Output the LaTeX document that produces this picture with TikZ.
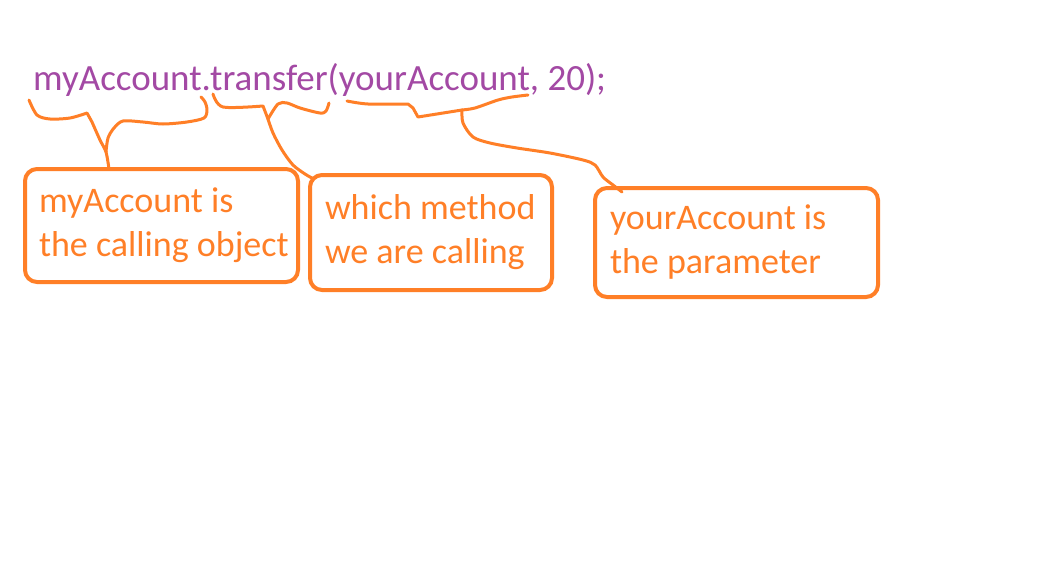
\documentclass[tikz,border=0pt]{standalone}
\usepackage{fontspec}
\setmainfont{Carlito}
\usetikzlibrary{calc}
\definecolor{paintpurple}{RGB}{163,73,164}
\definecolor{paintorange}{RGB}{255,127,39}
\tikzset{
  note/.style={draw=paintorange,line width=4pt,rounded corners=12pt,text=paintorange,
    font=\fontsize{36}{44}\selectfont,align=flush left,anchor=north west,inner xsep=14pt,inner ysep=0pt,outer sep=0pt},
  brace/.style={draw=paintorange,line width=3pt,line cap=round,line join=round}
}

\begin{document}
\begin{tikzpicture}[x=1pt,y=-1pt]
\useasboundingbox[fill=white] (0,0) rectangle (1040,576);

% the call
\node[text=paintpurple,anchor=base west,inner sep=0pt,font=\fontsize{37}{44}\selectfont] (call) at (33,90) {myAccount.transfer(yourAccount, 20);};

% the notes
\node[note,text width=245pt,minimum height=113pt] (objbox) at (25,169) {\mbox{myAccount is}\\\mbox{the calling object}};
\node[note,inner xsep=15pt,text width=212pt,minimum height=115pt] (methbox) at (310,175) {\mbox{which method}\\\mbox{we are calling}};
\node[note,inner xsep=15pt,text width=253pt,minimum height=109pt] (parbox) at (595,188) {\mbox{yourAccount is}\\\mbox{the parameter}};

% brace under myAccount
\coordinate (tip1) at (106,152);
\draw[brace] plot[smooth,tension=.5] coordinates {(29,100) (37,115) (50,119) (70,118) (87,113)}
  -- (92,122) -- plot[smooth,tension=.5] coordinates {(92,122) (100,140) (tip1) ($(objbox.north west)+(84,0)$)};
\draw[brace] plot[smooth,tension=.5] coordinates {(tip1) (108,138) (114,128) (123,121) (143,122) (163,124) (187,122) (204,118) (207,110) (205,102) (201,97)};

% brace under transfer
\coordinate (tip2) at (268,119);
\draw[brace] plot[smooth,tension=.5] coordinates {(213,94) (223,107) (263,106)} -- (tip2);
\draw[brace] plot[smooth,tension=.5] coordinates {(tip2) (278,104) (287,103) (300,108) (320,113) (326,111) (329,103)};
\draw[brace] plot[smooth,tension=.5] coordinates {(tip2) (273,133) (282,150) (293,165) (305,174) ($(methbox.north west)+(2,3)$)};

% brace under yourAccount
\coordinate (tip3) at (462,110);
\draw[brace] plot[smooth,tension=.5] coordinates {(347,101) (368,104) (408,104)} -- (413,108) -- (418,117) -- (tip3);
\draw[brace] plot[smooth,tension=.5] coordinates {(tip3) (475,108) (498,100) (512,97) (528,95)};
\draw[brace] plot[smooth,tension=.5] coordinates {(tip3) (463,123) (473,137) (490,143) (517,148) (550,153) (583,160) (595,165) (603,177) (613,185) ($(parbox.north west)+(27,4)$)};
\end{tikzpicture}
\end{document}
